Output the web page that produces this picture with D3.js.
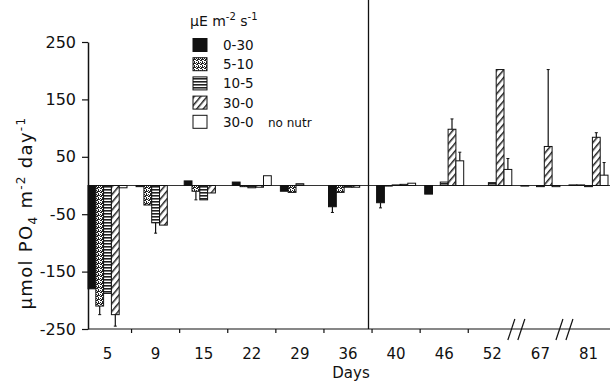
<!DOCTYPE html>
<html><head><meta charset="utf-8">
<script src="https://cdn.jsdelivr.net/npm/d3@7"></script>
<style>
body{margin:0;background:#fff}
text{font-family:"DejaVu Sans",sans-serif;fill:#111}
</style>
</head><body>
<svg id="c" width="610" height="383"></svg>
<script>
// ---- data ----
const days = ["5","9","15","22","29","36","40","46","52","67","81"];
const seriesNames = ["0-30","5-10","10-5","30-0","30-0"];
const seriesNotes = ["","","","","no nutr"];
const s0_30   = [-180, -2,   8,  6, -10, -37, -30, -15,   0,  -1,  1];
const s5_10   = [-210, -34, -10, -2, -12, -12,  -1,   0,   0,   0,  1];
const s10_5   = [-188, -65, -25, -4,   3,  -3,   1,   6,   5,  -2, -2];
const s30_0   = [-225, -69, -13, -3,   0,  -3,   2,  98, 202,  68, 84];
const s30_0nn = [  -4,   0,   0, 17,   0,   0,   4,  43,  28,  -2, 18];
const e0_30   = [0, 0, 0, 0, 0, 10, 9, 0, 0, 0, 0];
const e5_10   = [15, 0, 15, 0, 0, 0, 0, 0, 0, 0, 0];
const e10_5   = [0, 18, 0, 0, 0, 0, 0, 0, 0, 0, 0];
const e30_0   = [20, 0, 0, 0, 0, 0, 0, 18, 0, 134, 8];
const e30_0nn = [0, 0, 0, 0, 0, 0, 0, 15, 19, 0, 22];
const yTicks = [250, 150, 50, -50, -150, -250];
const breakAfter = ["52","67"];
const dividerAfter = "36";

const values = [s0_30, s5_10, s10_5, s30_0, s30_0nn];
const errors = [e0_30, e5_10, e10_5, e30_0, e30_0nn];

// ---- drawing ----
const svg = d3.select("#c");
const defs = svg.append("defs");

// patterns
const pDot = defs.append("pattern").attr("id","p1").attr("patternUnits","userSpaceOnUse").attr("width",4).attr("height",4);
pDot.append("rect").attr("width",4).attr("height",4).attr("fill","#fff");
[[0,0,2,1],[2,1,1,2],[0,2,1,1],[1,3,2,1],[3,3,1,1]].forEach(r=>pDot.append("rect").attr("x",r[0]).attr("y",r[1]).attr("width",r[2]).attr("height",r[3]).attr("fill","#222"));

const pH = defs.append("pattern").attr("id","p2").attr("patternUnits","userSpaceOnUse").attr("width",4).attr("height",3);
pH.append("rect").attr("width",4).attr("height",3).attr("fill","#fff");
pH.append("rect").attr("width",4).attr("height",1.6).attr("fill","#222");

const pD = defs.append("pattern").attr("id","p3").attr("patternUnits","userSpaceOnUse").attr("width",5).attr("height",5).attr("patternTransform","rotate(40)");
pD.append("rect").attr("width",5).attr("height",5).attr("fill","#fff");
pD.append("rect").attr("width",1.5).attr("height",5).attr("fill","#222");

const fills = ["#111","url(#p1)","url(#p2)","url(#p3)","#fff"];

const x0 = 88;
const step = 48.1, bw = 39;
const x = d3.scaleBand().domain(days).range([x0, x0 + step*(days.length-1) + bw]).paddingInner((step-bw)/step).paddingOuter(0);
const xs = d3.scaleBand().domain(d3.range(values.length)).range([0, x.bandwidth()]);
const y = d3.scaleLinear().domain([-250, 250]).range([329, 42]);

const xEnd = 610;

// zero line
svg.append("line").attr("x1",x0).attr("x2",xEnd).attr("y1",y(0)).attr("y2",y(0)).attr("stroke","#333").attr("stroke-width",1);

// bars
const g = svg.append("g");
days.forEach((d,i)=>{
  values.forEach((arr,j)=>{
    const v = arr[i];
    if (v === null || v === 0) return;
    const bx = x(d) + xs(j);
    g.append("rect")
      .attr("x", bx).attr("width", xs.bandwidth())
      .attr("y", y(Math.max(0,v))).attr("height", Math.abs(y(v)-y(0)))
      .attr("fill", fills[j]).attr("stroke","#111").attr("stroke-width",1);
    const e = errors[j][i];
    if (e) {
      const cx = bx + xs.bandwidth()/2;
      const end = v + Math.sign(v)*e;
      g.append("line").attr("x1",cx).attr("x2",cx).attr("y1",y(v)).attr("y2",y(end)).attr("stroke","#111").attr("stroke-width",1.2);
      g.append("line").attr("x1",cx-1.5).attr("x2",cx+1.5).attr("y1",y(end)).attr("y2",y(end)).attr("stroke","#111").attr("stroke-width",1);
    }
  });
});

// y axis
const yAxis = d3.axisLeft(y).tickValues(yTicks).tickSize(6).tickSizeOuter(0).tickPadding(6)
  .tickFormat(d => d < 0 ? "-" + Math.abs(d) : String(d));
const ga = svg.append("g").attr("transform",`translate(${x0},0)`).call(yAxis);
ga.select(".domain").attr("stroke","#111").attr("stroke-width",1.5);
ga.selectAll(".tick line").attr("stroke","#111").attr("stroke-width",1.2);
ga.selectAll(".tick text").style("font-size","16px").style("font-family","DejaVu Sans").attr("fill","#111");

// x axis baseline
const yb = y(-250);
svg.append("line").attr("x1",x0).attr("x2",xEnd).attr("y1",yb).attr("y2",yb).attr("stroke","#111").attr("stroke-width",1.2);
// tick marks between groups
const half = (x.step()-x.bandwidth())/2;
days.slice(1).forEach((d,i)=>{
  const prev = days[i];
  const tx = x(d) - half;
  if (breakAfter.includes(prev)) {
    [-5,5].forEach(o=>{
      svg.append("line").attr("x1",tx+o-3.5).attr("y1",yb+11).attr("x2",tx+o+3.5).attr("y2",yb-10).attr("stroke","#111").attr("stroke-width",1.2);
    });
  } else {
    svg.append("line").attr("x1",tx).attr("x2",tx).attr("y1",yb).attr("y2",yb+4).attr("stroke","#111").attr("stroke-width",1.2);
  }
});
// tick labels
days.forEach(d=>{
  svg.append("text").attr("x", x(d)+x.bandwidth()/2).attr("y", 359).attr("text-anchor","middle").style("font-size","15px").text(d);
});

// divider line
const dx = x(dividerAfter) + x.bandwidth() + 1;
svg.append("line").attr("x1",dx).attr("x2",dx).attr("y1",0).attr("y2",yb).attr("stroke","#111").attr("stroke-width",1.3);

// axis titles
svg.append("text").attr("x",351).attr("y",378).attr("text-anchor","middle").style("font-size","15px").text("Days");
const yt = svg.append("text").attr("transform","translate(32,213) rotate(-90)").attr("text-anchor","middle").style("font-size","18px").style("letter-spacing","1.3px");
yt.append("tspan").text("μmol PO");
yt.append("tspan").attr("dy",5).style("font-size","12px").text("4");
yt.append("tspan").attr("dy",-5).text(" m");
yt.append("tspan").attr("dy",-7).style("font-size","12px").text("-2");
yt.append("tspan").attr("dy",7).text(" day");
yt.append("tspan").attr("dy",-7).style("font-size","12px").text("-1");

// legend
const lt = svg.append("text").attr("x",190).attr("y",26).style("font-size","14px");
lt.append("tspan").text("μE m");
lt.append("tspan").attr("dy",-6).style("font-size","10px").text("-2");
lt.append("tspan").attr("dy",6).text(" s");
lt.append("tspan").attr("dy",-6).style("font-size","10px").text("-1");
seriesNames.forEach((n,i)=>{
  const ly = 45 + i*19.2;
  svg.append("rect").attr("x",193).attr("y",ly-6.5).attr("width",14).attr("height",13).attr("fill",fills[i]).attr("stroke","#111").attr("stroke-width",1);
  svg.append("text").attr("x",223).attr("y",ly+5).style("font-size","13.5px").text(n);
  if (seriesNotes[i]) svg.append("text").attr("x",268).attr("y",ly+5).style("font-size","12px").text(seriesNotes[i]);
});
</script>
</body></html>
